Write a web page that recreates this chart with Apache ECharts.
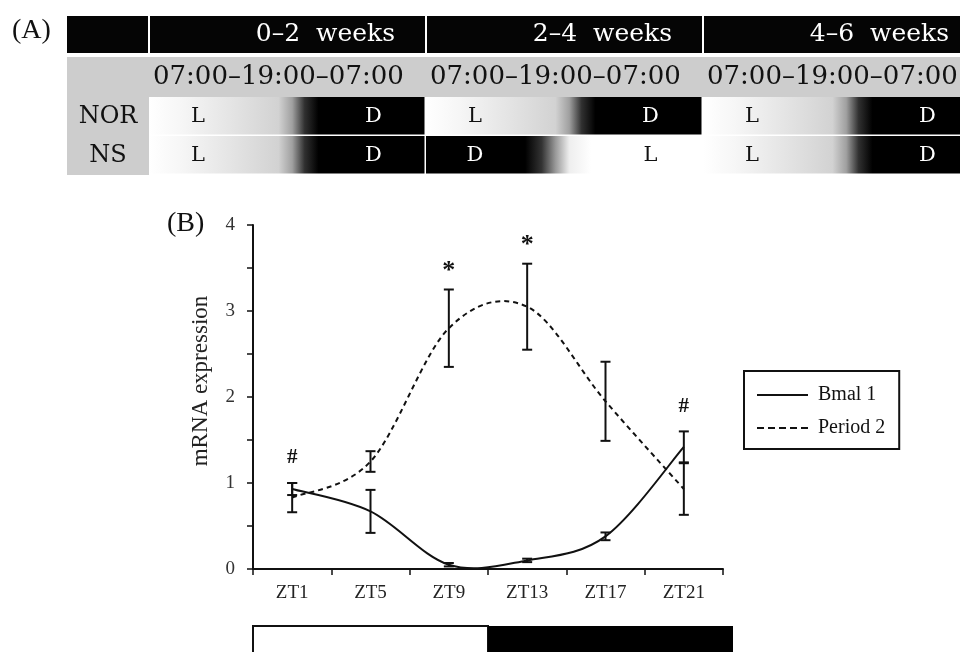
<!DOCTYPE html>
<html><head><meta charset="utf-8">
<script src="https://cdn.jsdelivr.net/npm/echarts@6/dist/echarts.min.js"></script>
<style>html,body{margin:0;padding:0;background:#fff}#c{width:960px;height:652px}</style>
</head><body><div id="c"></div>
<script>
// ---- Panel B data ----
const ztLabels = ['ZT1', 'ZT5', 'ZT9', 'ZT13', 'ZT17', 'ZT21'];
const bmal1 = [0.93, 0.67, 0.05, 0.10, 0.38, 1.42];
const bmal1Err = [0.07, 0.25, 0.02, 0.02, 0.045, 0.18];
const period2 = [0.83, 1.25, 2.80, 3.05, 1.95, 0.93];
const period2Err = [0.17, 0.12, 0.45, 0.50, 0.46, 0.30];
const sigMarks = ['#', '', '*', '*', '', '#'];
const lightDark = ['L', 'L', 'L', 'D', 'D', 'D'];
const seriesNames = ['Bmal 1', 'Period 2'];

// ---- Panel A data ----
const periodLabels = ['0\u20132  weeks', '2\u20134  weeks', '4\u20136  weeks'];
const clockLabel = '07:00\u201319:00\u201307:00';
const groups = ['NOR', 'NS'];
const norPhases = ['LD', 'LD', 'LD'];
const nsPhases = ['LD', 'DL', 'LD'];

const SERIF = '"Liberation Serif", "Times New Roman", serif';
const TSERIF = '"DejaVu Serif", serif';

const ldStops = [
  {offset: 0, color: '#ffffff'}, {offset: 0.12, color: '#f6f6f6'},
  {offset: 0.3, color: '#e4e4e4'}, {offset: 0.47, color: '#d2d2d2'},
  {offset: 0.52, color: '#a0a0a0'}, {offset: 0.565, color: '#303030'},
  {offset: 0.615, color: '#000000'}, {offset: 1, color: '#000000'}
];
const dlStops = [
  {offset: 0, color: '#000000'}, {offset: 0.36, color: '#000000'},
  {offset: 0.42, color: '#333333'}, {offset: 0.47, color: '#999999'},
  {offset: 0.52, color: '#eeeeee'}, {offset: 0.6, color: '#ffffff'},
  {offset: 1, color: '#ffffff'}
];

const ldRuns = [];
lightDark.forEach((ph, i) => {
  const last = ldRuns[ldRuns.length - 1];
  if (last && last[2] === (ph === 'L' ? 0 : 1)) last[1] = i;
  else ldRuns.push([i, i, ph === 'L' ? 0 : 1]);
});

function errRender() {
  return function (params, api) {
    const i = api.value(0), v = api.value(1), e = api.value(2);
    const t = api.coord([i, v + e]), b = api.coord([i, v - e]);
    const cap = 5;
    const st = {stroke: '#111', lineWidth: 2};
    return {type: 'group', children: [
      {type: 'line', shape: {x1: t[0], y1: t[1], x2: b[0], y2: b[1]}, style: st},
      {type: 'line', shape: {x1: t[0] - cap, y1: t[1], x2: t[0] + cap, y2: t[1]}, style: st},
      {type: 'line', shape: {x1: b[0] - cap, y1: b[1], x2: b[0] + cap, y2: b[1]}, style: st}
    ]};
  };
}

// smooth (Catmull-Rom) curve through the data points, positioned by the axes
function curveRender(values, dash) {
  return function (params, api) {
    if (params.dataIndex !== 0) return {type: 'group', children: []};
    const P = values.map((v, i) => api.coord([i, v]));
    const n = P.length;
    let d = 'M' + P[0][0] + ' ' + P[0][1];
    for (let i = 0; i < n - 1; i++) {
      const p0 = P[Math.max(i - 1, 0)], p1 = P[i], p2 = P[i + 1], p3 = P[Math.min(i + 2, n - 1)];
      const c1x = p1[0] + (p2[0] - p0[0]) / 6, c1y = p1[1] + (p2[1] - p0[1]) / 6;
      const c2x = p2[0] - (p3[0] - p1[0]) / 6, c2y = p2[1] - (p3[1] - p1[1]) / 6;
      d += ' C' + c1x + ' ' + c1y + ' ' + c2x + ' ' + c2y + ' ' + p2[0] + ' ' + p2[1];
    }
    return {type: 'path', shape: {pathData: d},
      style: {fill: null, stroke: '#111', lineWidth: 2, lineDash: dash || null}};
  };
}

const markData = [];
sigMarks.forEach((m, i) => {
  if (m) markData.push([i, Math.max(bmal1[i] + bmal1Err[i], period2[i] + period2Err[i])]);
});

const cellData = [];
groups.forEach((g, r) => { periodLabels.forEach((pl, p) => cellData.push([p, r])); });

const solidIcon = 'path://M0,0H51V2H0Z';
const dashIcon = 'path://M0,0H7V2H0Z M11,0H18V2H11Z M22,0H29V2H22Z M33,0H40V2H33Z M44,0H51V2H44Z';

const chart = echarts.init(document.getElementById('c'));
chart.setOption({
  backgroundColor: '#fff',
  animation: false,
  graphic: [
    {type: 'text', left: 12, top: 17, style: {text: '(A)', font: '28px ' + SERIF, fill: '#111'}},
    {type: 'text', left: 167, top: 210, style: {text: '(B)', font: '28px ' + SERIF, fill: '#111'}}
  ],
  legend: {
    data: [{name: seriesNames[0], icon: solidIcon}, {name: seriesNames[1], icon: dashIcon}],
    orient: 'vertical',
    left: 744, top: 371,
    padding: [14, 14, 11, 13],
    itemWidth: 51, itemHeight: 14, itemGap: 13,
    borderColor: '#111', borderWidth: 2,
    itemStyle: {color: '#111'},
    textStyle: {fontFamily: SERIF, fontSize: 20, color: '#111', padding: [0, 0, 0, 5]}
  },
  grid: [
    {left: 253, top: 225, width: 470, height: 344, outerBoundsMode: 'none'},
    {left: 149, top: 97, width: 831, height: 78, outerBoundsMode: 'none'}
  ],
  xAxis: [
    {
      type: 'category', data: ztLabels, boundaryGap: true, gridIndex: 0,
      axisLine: {lineStyle: {color: '#111', width: 2}},
      axisTick: {show: true, length: 6, lineStyle: {color: '#111', width: 1.5}},
      axisLabel: {fontFamily: SERIF, fontSize: 19, color: '#222', margin: 15}
    },
    {type: 'value', min: 0, max: 3, gridIndex: 1, show: false}
  ],
  yAxis: [
    {
      type: 'value', min: 0, max: 4, interval: 0.5, gridIndex: 0,
      name: 'mRNA expression', nameLocation: 'middle', nameGap: 41,
      nameTextStyle: {fontFamily: SERIF, fontSize: 23, color: '#222', padding: [0, 0, 0, 32]},
      axisLine: {show: true, lineStyle: {color: '#111', width: 2}},
      axisTick: {show: true, length: 6, lineStyle: {color: '#111', width: 1.5}},
      splitLine: {show: false},
      axisLabel: {fontFamily: SERIF, fontSize: 19, color: '#333', margin: 18,
        formatter: v => (Math.abs(v - Math.round(v)) < 1e-6 ? String(Math.round(v)) : '')}
    },
    {
      type: 'category', data: groups, inverse: true, gridIndex: 1, z: 10,
      axisLine: {show: false}, axisTick: {show: false}, splitLine: {show: false},
      axisLabel: {margin: 41, align: 'center', fontFamily: TSERIF, fontSize: 24, color: '#111'}
    }
  ],
  series: [
    {
      name: seriesNames[0], type: 'custom', xAxisIndex: 0, yAxisIndex: 0,
      data: bmal1.map((v, i) => [i, v]), encode: {x: 0, y: 1},
      itemStyle: {color: '#111'}, renderItem: curveRender(bmal1), z: 3
    },
    {
      name: seriesNames[1], type: 'custom', xAxisIndex: 0, yAxisIndex: 0,
      data: period2.map((v, i) => [i, v]), encode: {x: 0, y: 1},
      itemStyle: {color: '#111'}, renderItem: curveRender(period2, [5, 4]), z: 3
    },
    {
      name: 'bmalErr', type: 'custom', xAxisIndex: 0, yAxisIndex: 0,
      data: bmal1.map((v, i) => [i, v, bmal1Err[i]]),
      encode: {x: 0, y: 1}, renderItem: errRender(), z: 4
    },
    {
      name: 'perErr', type: 'custom', xAxisIndex: 0, yAxisIndex: 0,
      data: period2.map((v, i) => [i, v, period2Err[i]]),
      encode: {x: 0, y: 1}, renderItem: errRender(), z: 4
    },
    {
      name: 'marks', type: 'custom', xAxisIndex: 0, yAxisIndex: 0, clip: false,
      data: markData, encode: {x: 0, y: 1}, z: 5,
      renderItem(params, api) {
        const i = api.value(0), top = api.value(1);
        const pt = api.coord([i, top]);
        const m = sigMarks[i];
        const isStar = m === '*';
        return {type: 'text', style: {
          x: pt[0], y: pt[1] - (isStar ? 18 : 25), text: m,
          font: (isStar ? 'bold 26px ' : 'bold 21px ') + SERIF,
          fill: '#111', align: 'center', verticalAlign: 'middle'
        }};
      }
    },
    {
      name: 'ldBar', type: 'custom', xAxisIndex: 0, yAxisIndex: 0, clip: false,
      data: ldRuns, encode: {x: 0}, z: 2,
      renderItem(params, api) {
        const s = api.value(0), e = api.value(1), ph = api.value(2);
        const w = api.size([1, 0])[0];
        let x0 = api.coord([s, 0])[0] - w / 2;
        let x1 = api.coord([e, 0])[0] + w / 2;
        if (e === lightDark.length - 1) x1 += 10;
        const cs = params.coordSys;
        const y0 = cs.y + cs.height + 57;
        return {type: 'rect', shape: {x: x0, y: y0, width: x1 - x0, height: 40},
          style: ph === 0 ? {fill: '#fff', stroke: '#111', lineWidth: 2} : {fill: '#000'}};
      }
    },
    {
      name: 'tableHeader', type: 'custom', xAxisIndex: 1, yAxisIndex: 1, clip: false,
      data: periodLabels.map((l, p) => [p, 0]), encode: {x: 0, y: 1}, z: 1,
      renderItem(params, api) {
        const p = api.value(0);
        const x0 = api.coord([p, 0])[0], x1 = api.coord([p + 1, 0])[0];
        const top = params.coordSys.y;
        const ch = [
          {type: 'rect', shape: {x: x0 + 1, y: top - 81, width: x1 - x0 - 2, height: 37}, style: {fill: '#050505'}},
          {type: 'rect', shape: {x: x0, y: top - 40, width: x1 - x0, height: 40}, style: {fill: '#cdcdcd'}},
          {type: 'text', style: {x: x1 - 31, y: top - 62.5, text: periodLabels[p], fill: '#fff',
            font: '25px ' + TSERIF, align: 'right', verticalAlign: 'middle'}},
          {type: 'text', style: {x: x0 + 4, y: top - 20, text: clockLabel, fill: '#111',
            font: '26px ' + TSERIF, align: 'left', verticalAlign: 'middle'}}
        ];
        if (p === 0) {
          ch.unshift(
            {type: 'rect', shape: {x: x0 - 82, y: top - 81, width: 81, height: 37}, style: {fill: '#050505'}},
            {type: 'rect', shape: {x: x0 - 82, y: top - 40, width: 82, height: 118}, style: {fill: '#cdcdcd'}}
          );
        }
        return {type: 'group', children: ch};
      }
    },
    {
      name: 'tableCells', type: 'custom', xAxisIndex: 1, yAxisIndex: 1, clip: false,
      data: cellData, encode: {x: 0, y: 1}, z: 1,
      renderItem(params, api) {
        const p = api.value(0), r = api.value(1);
        const pattern = (r === 0 ? norPhases : nsPhases)[p];
        const a = api.coord([p, r]), b = api.coord([p + 1, r]);
        const h = api.size([0, 1])[1];
        const x0 = a[0], w = b[0] - a[0], y0 = a[1] - h / 2;
        const stops = pattern === 'LD' ? ldStops : dlStops;
        const lbl = (ch, fx) => ({type: 'text', style: {
          x: x0 + fx * w, y: y0 + h / 2, text: ch, fill: ch === 'L' ? '#111' : '#fff',
          font: '21px ' + TSERIF, align: 'center', verticalAlign: 'middle'}});
        return {type: 'group', children: [
          {type: 'rect', shape: {x: x0, y: y0, width: w - 1.5, height: h - 1.5},
            style: {fill: new echarts.graphic.LinearGradient(0, 0, 1, 0, stops)}},
          lbl(pattern[0], 0.177), lbl(pattern[1], 0.81)
        ]};
      }
    }
  ]
});
</script></body></html>
